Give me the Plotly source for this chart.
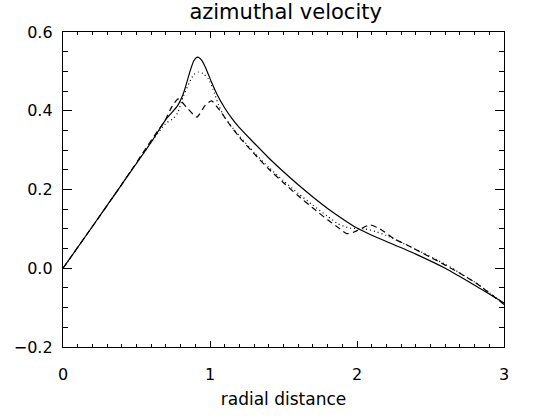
import plotly.graph_objects as go

# Solid curve
x_solid = [0.0, 0.2, 0.4, 0.6, 0.7, 0.78, 0.82, 0.864, 0.89, 0.916, 0.945, 0.975, 1.01, 1.05, 1.1, 1.15, 1.2, 1.3,
           1.4, 1.5, 1.6, 1.7, 1.8, 1.9, 2.0, 2.1, 2.2, 2.4, 2.6, 2.8, 3.0]
y_solid = [0.0, 0.106, 0.213, 0.32, 0.378, 0.413, 0.445, 0.50, 0.527, 0.536, 0.527, 0.505, 0.473, 0.44, 0.407,
           0.38, 0.357, 0.318, 0.280, 0.245, 0.212, 0.181, 0.152, 0.126, 0.102, 0.084, 0.068, 0.036, 0.000,
           -0.043, -0.088]

# Dotted curve
x_dot = [0.0, 0.2, 0.4, 0.6, 0.7, 0.75, 0.78, 0.82, 0.86, 0.89, 0.92, 0.955, 0.99, 1.02, 1.06, 1.1, 1.2, 1.3, 1.4,
         1.5, 1.6, 1.7, 1.8, 1.87, 1.95, 2.05, 2.13, 2.2, 2.4, 2.6, 2.8, 3.0]
y_dot = [0.0, 0.106, 0.213, 0.32, 0.368, 0.38, 0.395, 0.438, 0.472, 0.492, 0.498, 0.494, 0.48, 0.455, 0.413, 0.383,
         0.336, 0.294, 0.256, 0.222, 0.19, 0.16, 0.132, 0.113, 0.102, 0.10, 0.093, 0.083, 0.048, 0.01, -0.035, -0.09]

# Dashed curve
x_dash = [0.0, 0.2, 0.4, 0.626, 0.694, 0.74, 0.784, 0.84, 0.91, 0.966, 1.01, 1.068, 1.136, 1.2, 1.3, 1.4, 1.5,
          1.6, 1.7, 1.8, 1.884, 1.93, 1.98, 2.04, 2.09, 2.157, 2.247, 2.34, 2.6, 2.8, 3.0]
y_dash = [0.0, 0.106, 0.213, 0.339, 0.375, 0.41, 0.43, 0.409, 0.384, 0.413, 0.425, 0.40, 0.364, 0.333, 0.291,
          0.252, 0.217, 0.184, 0.153, 0.123, 0.100, 0.088, 0.092, 0.103, 0.11, 0.10, 0.076, 0.059, 0.008, -0.035, -0.092]

title_text = "azimuthal velocity"
x_title = "radial distance"
x_ticks = [0, 1, 2, 3]
y_ticks = [-0.2, 0.0, 0.2, 0.4, 0.6]
y_ticktext = ["\u22120.2", "0.0", "0.2", "0.4", "0.6"]

FONT = "DejaVu Sans"

fig = go.Figure()
fig.add_trace(go.Scatter(x=x_solid, y=y_solid, mode="lines",
                         line=dict(color="black", width=1.2, shape="spline", smoothing=0.6)))
fig.add_trace(go.Scatter(x=x_dot, y=y_dot, mode="lines",
                         line=dict(color="black", width=1.2, dash="1px,3px", shape="spline", smoothing=0.6)))
fig.add_trace(go.Scatter(x=x_dash, y=y_dash, mode="lines",
                         line=dict(color="black", width=1.2, dash="6px,4px", shape="spline", smoothing=0.6)))

fig.update_layout(
    width=541, height=417,
    margin=dict(l=63, r=37, t=32, b=62),
    paper_bgcolor="white", plot_bgcolor="white",
    showlegend=False,
    font=dict(family=FONT, color="black", size=16),
    title=dict(text=title_text, x=0.528, xanchor="center", y=0.99, yanchor="top",
               font=dict(family=FONT, size=21, color="black")),
)
fig.update_xaxes(
    range=[0, 3], tickvals=x_ticks, ticktext=[str(v) for v in x_ticks],
    showgrid=False, zeroline=False, showline=True, linecolor="black", linewidth=1.3,
    mirror="allticks", ticks="inside", ticklen=6, tickcolor="black", tickwidth=1,
    minor=dict(dtick=0.1, ticks="inside", ticklen=3, tickcolor="black", tickwidth=1, showgrid=False),
    ticklabelstandoff=13,
    title=dict(text=x_title, font=dict(family=FONT, size=17), standoff=9),
)
fig.update_yaxes(
    range=[-0.2, 0.6], tickvals=y_ticks, ticktext=y_ticktext,
    showgrid=False, zeroline=False, showline=True, linecolor="black", linewidth=1.3,
    mirror="allticks", ticks="inside", ticklen=9, tickcolor="black", tickwidth=1,
    minor=dict(dtick=0.05, ticks="inside", ticklen=5, tickcolor="black", tickwidth=1, showgrid=False),
    ticklabelstandoff=6,
)

fig.write_html("out.html", config={"displayModeBar": False},
               post_script="document.body.style.margin='0';")
